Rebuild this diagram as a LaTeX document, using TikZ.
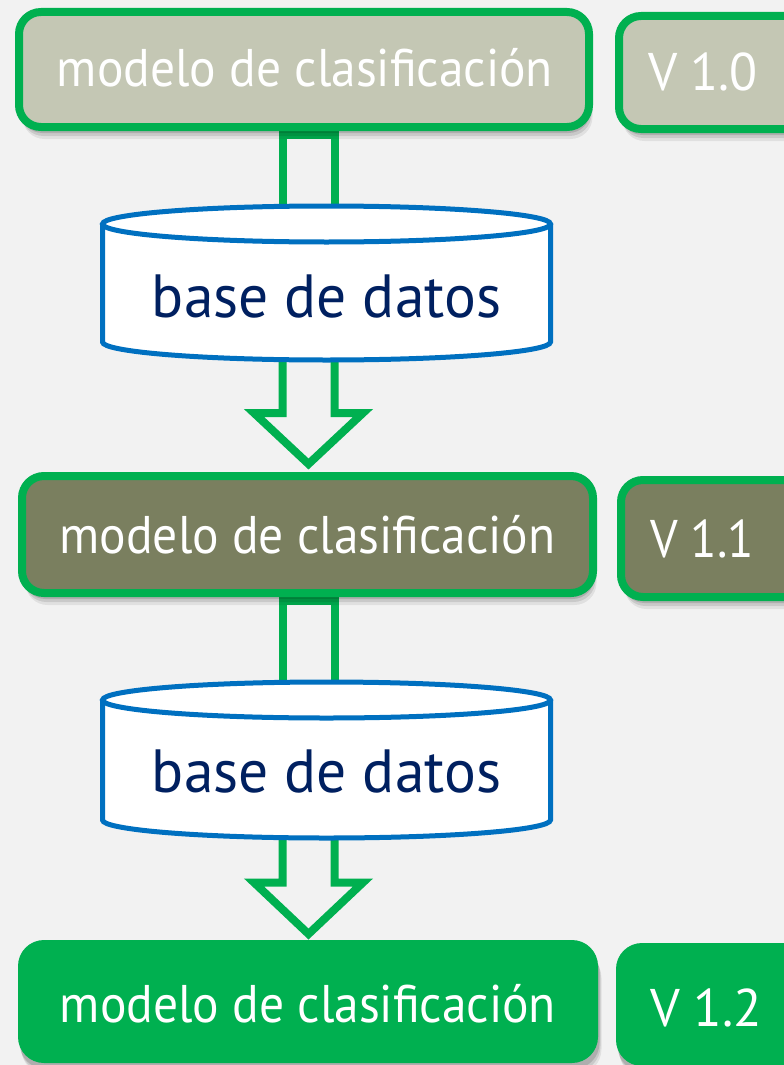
\documentclass[tikz,border=0pt]{standalone}
\usepackage{graphicx}
\usepackage{fontspec}
\setmainfont{PT Sans}
\usetikzlibrary{shadows}
\definecolor{bgc}{HTML}{F2F2F2}
\definecolor{grn}{HTML}{00B050}
\definecolor{lightfill}{HTML}{C4C7B4}
\definecolor{olive}{HTML}{7A7F5F}
\definecolor{cylblue}{HTML}{0070C0}
\definecolor{navy}{HTML}{002060}
\tikzset{
  softshadow/.style={
    drop shadow={shadow xshift=1.5pt,shadow yshift=-6pt,opacity=.13,fill=black},
    drop shadow={shadow xshift=2.5pt,shadow yshift=-9pt,opacity=.10,fill=black},
    drop shadow={shadow xshift=3.5pt,shadow yshift=-12pt,opacity=.07,fill=black}},
  mbox/.style={rectangle, rounded corners=22pt, draw=grn, line width=8pt, softshadow, inner sep=0pt},
  gbox/.style={rectangle, rounded corners=26pt, fill=grn, softshadow, inner sep=0pt},
  btext/.style={text=white, inner sep=0pt, anchor=base, font=\fontsize{53}{60}\selectfont},
  dtext/.style={text=navy, inner sep=0pt, anchor=base, font=\fontsize{61}{68}\selectfont},
  tube/.style={draw=grn, line width=8pt, miter limit=20},
  cyl/.style={draw=cylblue, line width=5pt, fill=white},
}
\begin{document}
\begin{tikzpicture}[x=1pt,y=-1pt]
\fill[bgc] (0,0) rectangle (784,1065);
\useasboundingbox (0,0) rectangle (784,1065);
\clip (0,0) rectangle (784,1065);

% tubes and block arrows (drawn first, partly hidden)
\draw[tube] (282.5,135) -- (282.5,230) -- (334.5,230) -- (334.5,135) -- cycle;
\draw[tube] (282.5,330) -- (282.5,413) -- (254,413) -- (308.5,464) -- (363,413) -- (334.5,413) -- (334.5,330) -- cycle;
\draw[tube] (282.5,601) -- (282.5,705) -- (334.5,705) -- (334.5,601) -- cycle;
\draw[tube] (282.5,805) -- (282.5,882.5) -- (254,882.5) -- (308.5,934) -- (363,882.5) -- (334.5,882.5) -- (334.5,805) -- cycle;

% row 1
\node[mbox, fill=lightfill, minimum width=570pt, minimum height=115pt] (m1) at (304,69.5) {};
\node[mbox, fill=lightfill, minimum width=201pt, minimum height=113pt] (v1) at (719.5,72.5) {};
\node[btext] (m1t) at (305,87) {\resizebox{496pt}{\height}{modelo de clasificación}};
\node[btext] (v1t) at (703,91) {\resizebox{110pt}{\height}{V 1.0}};

% cylinder 1
\path[cyl, draw=none] (102.5,224) -- (102.5,342) arc[start angle=180,end angle=360,x radius=224pt,y radius=18pt] -- (550.5,224) -- cycle;
\draw[cyl, fill=none] (102.5,224) -- (102.5,342) arc[start angle=180,end angle=360,x radius=224pt,y radius=18pt] -- (550.5,224);
\draw[cyl] (326.5,224) ellipse [x radius=224pt, y radius=18pt];
\node[dtext] (d1) at (326.5,317) {\resizebox{349pt}{\height}{base de datos}};

% row 2
\node[mbox, fill=olive, minimum width=571pt, minimum height=117pt] (m2) at (307.5,534.5) {};
\node[mbox, fill=olive, minimum width=199pt, minimum height=117pt] (v2) at (720.5,538.5) {};
\node[btext] (m2t) at (307.5,553) {\resizebox{496pt}{\height}{modelo de clasificación}};
\node[btext] (v2t) at (702,557) {\resizebox{104pt}{\height}{V 1.1}};

% cylinder 2
\path[cyl, draw=none] (102.5,700) -- (102.5,820) arc[start angle=180,end angle=360,x radius=224pt,y radius=18pt] -- (550.5,700) -- cycle;
\draw[cyl, fill=none] (102.5,700) -- (102.5,820) arc[start angle=180,end angle=360,x radius=224pt,y radius=18pt] -- (550.5,700);
\draw[cyl] (326.5,700) ellipse [x radius=224pt, y radius=18pt];
\node[dtext] (d2) at (326.5,792) {\resizebox{349pt}{\height}{base de datos}};

% row 3
\node[gbox, minimum width=580pt, minimum height=123pt] (m3) at (308,1001.5) {};
\node[gbox, minimum width=214pt, minimum height=123pt] (v3) at (723,1004.5) {};
\node[btext] (m3t) at (308,1022) {\resizebox{496pt}{\height}{modelo de clasificación}};
\node[btext] (v3t) at (706,1026) {\resizebox{112pt}{\height}{V 1.2}};
\end{tikzpicture}
\end{document}
